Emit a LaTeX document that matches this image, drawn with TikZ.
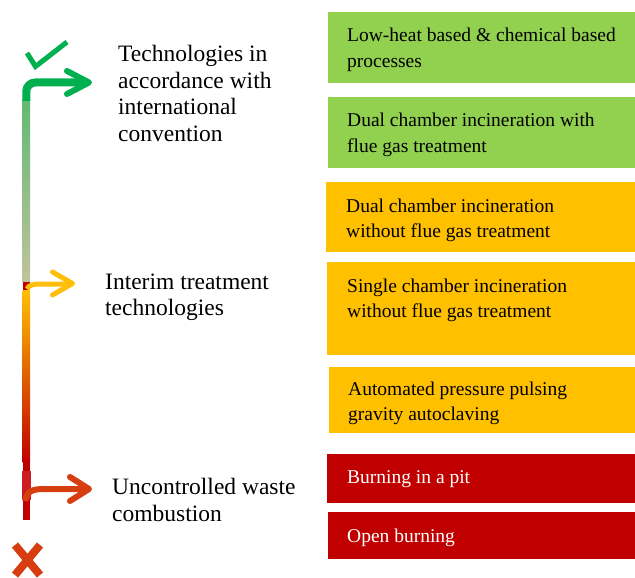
\documentclass[tikz,border=0pt]{standalone}
\usepackage{fontspec}
\setmainfont{Liberation Serif}
\definecolor{gboxc}{RGB}{146,208,80}
\definecolor{yboxc}{RGB}{255,192,0}
\definecolor{rboxc}{RGB}{192,0,0}
\definecolor{garrow}{RGB}{0,176,80}
\definecolor{yarrow}{RGB}{255,190,10}
\definecolor{oarrow}{RGB}{214,62,16}
\definecolor{bartop}{RGB}{98,186,114}
\definecolor{barpale}{RGB}{192,194,158}
\definecolor{barmid}{RGB}{232,110,10}
\definecolor{barlight}{RGB}{204,28,34}
\begin{document}
\begin{tikzpicture}[x=1pt,y=-1pt,
  box/.style={rectangle, inner sep=0pt, outer sep=0pt, anchor=north west},
  btext/.style={anchor=base west, inner sep=0pt, align=left, font=\fontsize{19.5}{25}\selectfont},
  ltext/.style={anchor=base west, inner sep=0pt, align=left, font=\fontsize{23.5}{26.4}\selectfont},
  shaft/.style={line cap=butt},
  chev/.style={line cap=round, line join=round}]
\useasboundingbox (0,0) rectangle (635,578);

% ---- right-hand boxes
\node[box, fill=gboxc, minimum width=307pt, minimum height=71pt] (b1) at (328,12) {};
\node[box, fill=gboxc, minimum width=307pt, minimum height=71pt] (b2) at (328,97) {};
\node[box, fill=yboxc, minimum width=309pt, minimum height=70pt] (b3) at (326,182) {};
\node[box, fill=yboxc, minimum width=308pt, minimum height=93pt] (b4) at (327,262) {};
\node[box, fill=yboxc, minimum width=306pt, minimum height=66pt] (b5) at (329,367) {};
\node[box, fill=rboxc, minimum width=308pt, minimum height=49pt] (b6) at (327,454) {};
\node[box, fill=rboxc, minimum width=307pt, minimum height=47pt] (b7) at (328,512) {};

% (base anchor of a multi-line node = baseline of its last line)
\node[btext] (t1) at ([shift={(19,55)}]b1.north west) {Low-heat based \& chemical based\\processes};
\node[btext] (t2) at ([shift={(19,55)}]b2.north west) {Dual chamber incineration with\\flue gas treatment};
\node[btext] (t3) at ([shift={(20,55)}]b3.north west) {Dual chamber incineration\\without flue gas treatment};
\node[btext] (t4) at ([shift={(20,55)}]b4.north west) {Single chamber incineration\\without flue gas treatment};
\node[btext] (t5) at ([shift={(19,53)}]b5.north west) {Automated pressure pulsing\\gravity autoclaving};
\node[btext, text=white] (t6) at ([shift={(20,29)}]b6.north west) {Burning in a pit};
\node[btext, text=white] (t7) at ([shift={(19,30)}]b7.north west) {Open burning};

% ---- left labels
\node[ltext] (l1) at (118,141) {Technologies in\\accordance with\\international\\convention};
\node[ltext] (l2) at (105,315.5) {Interim treatment\\technologies};
\node[ltext] (l3) at (112,521) {Uncontrolled waste\\combustion};

% ---- vertical scale bar
\shade[top color=bartop, bottom color=barpale] (22.5,100) rectangle (30,282.5);
\fill[rboxc] (22.5,282) rectangle (30,290);
\shade[top color=yboxc, middle color=barmid, bottom color=rboxc] (22.5,290) rectangle (30,462);
\fill[rboxc] (22.5,461.5) rectangle (30,520);
\fill[barlight] (22,471) rectangle (30.5,500);

% ---- green arrow (top)
\coordinate (gs) at (26.25,101);
\coordinate (ge) at (84,82.5);
\coordinate (gt) at (89,82.5);
\draw[garrow, line width=8pt, shaft, rounded corners=9pt] (gs) |- (ge);
\draw[garrow, line width=6pt, chev] (gt) ++(-22,-11.5) -- (gt) -- ++(-22,11.5);
% check mark
\coordinate (c1) at (27,53);
\coordinate (c2) at (35.5,66.5);
\coordinate (c3) at (67,42);
\draw[garrow, line width=5pt, line cap=butt, line join=miter] (c1) -- (c2) -- (c3);

% ---- yellow arrow (middle)
\coordinate (ys) at (27,289);
\coordinate (ye) at (68,284);
\coordinate (yt) at (72.5,283.5);
\draw[yarrow, line width=5pt, shaft] (ys) .. controls (29,285) and (33,284) .. (40,284) -- (ye);
\draw[yarrow, line width=5pt, chev] (yt) ++(-20,-11.5) -- (yt) -- ++(-20,11.5);

% ---- orange-red arrow (bottom)
\coordinate (os) at (25,501);
\coordinate (oe) at (84,489);
\coordinate (ot) at (89,489);
\draw[oarrow, line width=6pt, shaft] (os) .. controls (27,491) and (32,489) .. (45,489) -- (oe);
\draw[oarrow, line width=6pt, chev] (ot) ++(-19,-12) -- (ot) -- ++(-19,12);
% cross
\coordinate (x1) at (15,545);
\coordinate (x2) at (40,575);
\coordinate (x3) at (40,545);
\coordinate (x4) at (15,575);
\draw[oarrow, line width=8pt] (x1) -- (x2) (x3) -- (x4);
\end{tikzpicture}
\end{document}
